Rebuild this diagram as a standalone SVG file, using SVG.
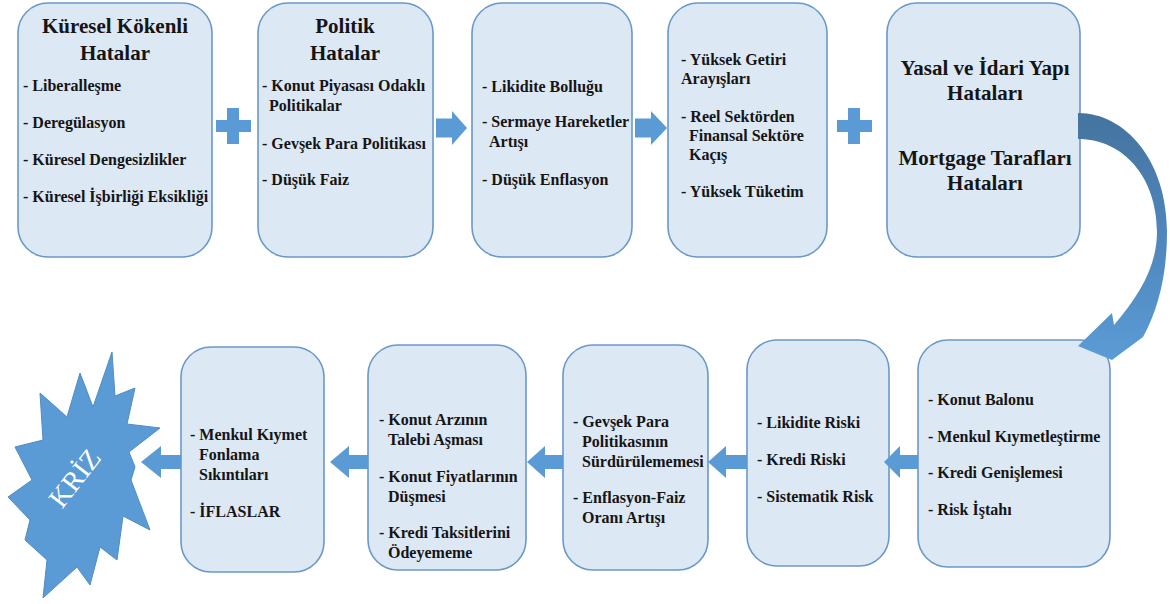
<svg xmlns="http://www.w3.org/2000/svg" width="1170" height="604" viewBox="0 0 1170 604">
<defs>
<style>
.box{fill:#DDE8F5;stroke:#6A98C8;stroke-width:1.6}
.t{font-family:"Liberation Serif","Tinos","Noto Serif","DejaVu Serif",serif;font-weight:bold;fill:#151515}
.title{font-size:21px;text-anchor:middle}
.it{font-size:16px}
.arr{fill:#5B9BD5}
</style>
<linearGradient id="cg" x1="0" y1="0" x2="0" y2="1">
<stop offset="0" stop-color="#44749F"/>
<stop offset="0.5" stop-color="#4F86BC"/>
<stop offset="1" stop-color="#5B9BD5"/>
</linearGradient>
</defs>
<rect width="1170" height="604" fill="#FFFFFF"/>

<g id="n1">
<rect class="box" x="18" y="3" width="194" height="254" rx="30"/>
<text class="t title" x="115" y="33">Küresel Kökenli</text>
<text class="t title" x="115" y="60">Hatalar</text>
<text class="t it" x="23" y="91">- Liberalleşme</text>
<text class="t it" x="23" y="128">- Deregülasyon</text>
<text class="t it" x="23" y="165">- Küresel Dengesizlikler</text>
<text class="t it" x="23" y="202">- Küresel İşbirliği Eksikliği</text>
</g>

<g id="n2">
<rect class="box" x="258" y="3" width="175" height="254" rx="30"/>
<text class="t title" x="345" y="33">Politik</text>
<text class="t title" x="345" y="60">Hatalar</text>
<text class="t it" x="262" y="91">- Konut Piyasası Odaklı</text>
<text class="t it" x="269" y="111">Politikalar</text>
<text class="t it" x="262" y="149">- Gevşek Para Politikası</text>
<text class="t it" x="262" y="185">- Düşük Faiz</text>
</g>

<g id="n3">
<rect class="box" x="472" y="3" width="160" height="254" rx="30"/>
<text class="t it" x="482" y="92">- Likidite Bolluğu</text>
<text class="t it" x="482" y="127">- Sermaye Hareketler</text>
<text class="t it" x="489" y="147">Artışı</text>
<text class="t it" x="482" y="185">- Düşük Enflasyon</text>
</g>

<g id="n4">
<rect class="box" x="668" y="3" width="159" height="254" rx="30"/>
<text class="t it" x="681" y="65">- Yüksek Getiri</text>
<text class="t it" x="681" y="84">Arayışları</text>
<text class="t it" x="681" y="122">- Reel Sektörden</text>
<text class="t it" x="689" y="141">Finansal Sektöre</text>
<text class="t it" x="689" y="160">Kaçış</text>
<text class="t it" x="681" y="197">- Yüksek Tüketim</text>
</g>

<g id="n5">
<rect class="box" x="887" y="3" width="193" height="254" rx="30"/>
<text class="t title" x="985" y="75">Yasal ve İdari Yapı</text>
<text class="t title" x="985" y="100">Hataları</text>
<text class="t title" x="985" y="165">Mortgage Tarafları</text>
<text class="t title" x="985" y="190">Hataları</text>
</g>

<g id="n6">
<rect class="box" x="918" y="340" width="192" height="227" rx="30"/>
<text class="t it" x="928" y="405">- Konut Balonu</text>
<text class="t it" x="928" y="442">- Menkul Kıymetleştirme</text>
<text class="t it" x="928" y="478">- Kredi Genişlemesi</text>
<text class="t it" x="928" y="515">- Risk İştahı</text>
</g>

<g id="n7">
<rect class="box" x="747" y="340" width="142" height="226" rx="30"/>
<text class="t it" x="757" y="428">- Likidite Riski</text>
<text class="t it" x="757" y="465">- Kredi Riski</text>
<text class="t it" x="757" y="502">- Sistematik Risk</text>
</g>

<g id="n8">
<rect class="box" x="563" y="345" width="145" height="225" rx="30"/>
<text class="t it" x="573" y="427">- Gevşek Para</text>
<text class="t it" x="582" y="447">Politikasının</text>
<text class="t it" x="582" y="467">Sürdürülememesi</text>
<text class="t it" x="573" y="503">- Enflasyon-Faiz</text>
<text class="t it" x="582" y="523">Oranı Artışı</text>
</g>

<g id="n9">
<rect class="box" x="368" y="345" width="158" height="225" rx="30"/>
<text class="t it" x="379" y="425">- Konut Arzının</text>
<text class="t it" x="388" y="445">Talebi Aşması</text>
<text class="t it" x="379" y="482">- Konut Fiyatlarının</text>
<text class="t it" x="388" y="502">Düşmesi</text>
<text class="t it" x="379" y="538">- Kredi Taksitlerini</text>
<text class="t it" x="388" y="558">Ödeyememe</text>
</g>

<g id="n10">
<rect class="box" x="181" y="347" width="143" height="225" rx="30"/>
<text class="t it" x="190" y="440">- Menkul Kıymet</text>
<text class="t it" x="199" y="460">Fonlama</text>
<text class="t it" x="199" y="480">Sıkıntıları</text>
<text class="t it" x="190" y="517">- İFLASLAR</text>
</g>

<g id="kriz">
<polygon fill="#5B9BD5" stroke="#4F8CC6" stroke-width="1" points="112,352 115,396 135,388 127,424 160,428 129,452 135,467 131,480 150,530 123,516 117,560 100,547 90,585 77,567 43,598 47,560 25,540 30,520 8,497 32,480 15,447 43,440 40,393 67,417 80,373 93,407"/>
<text class="t" x="77" y="480" transform="rotate(-52 77 480)" text-anchor="middle" dominant-baseline="middle" font-size="28" style="font-weight:normal;fill:#FFFFFF">KRİZ</text>
</g>

<g id="connectors">
<path class="arr" d="M216,120 H227 V108 H239 V120 H251 V132 H239 V144 H227 V132 H216 Z"/>
<path class="arr" d="M837,120 H848 V108 H860 V120 H872 V132 H860 V144 H848 V132 H837 Z"/>
<path class="arr" d="M436,118.5 H452 V111 L467,128 L452,145 V137.5 H436 Z"/>
<path class="arr" d="M635,118.5 H651 V111 L667,128 L651,145 V137.5 H635 Z"/>
<path fill="url(#cg)" d="M1078,113 C1125,113 1167,160 1167,232 C1167,275 1158,310 1143,337 L1112,360 L1078,346 L1112,313 L1114,325 C1140,295 1157,265 1157,232 C1157,178 1124,139 1078,139 Z"/>
<path class="arr" d="M918,455 H900 V446 L884,462 L900,478 V469 H918 Z"/>
<path class="arr" d="M747,455 H726 V446 L708,462 L726,478 V469 H747 Z"/>
<path class="arr" d="M563,455 H545 V446 L527,462 L545,478 V469 H563 Z"/>
<path class="arr" d="M368,455 H349 V446 L330,462 L349,478 V469 H368 Z"/>
<path class="arr" d="M181,455 H161 V446 L141,462 L161,478 V469 H181 Z"/>
</g>
</svg>
